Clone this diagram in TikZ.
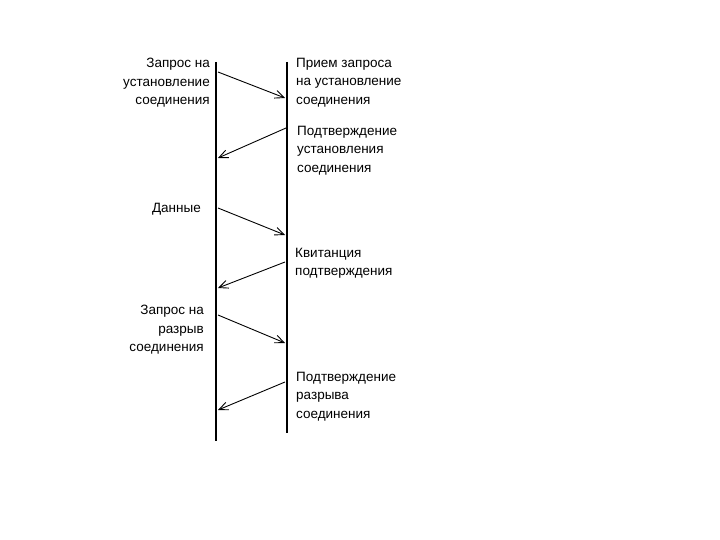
\documentclass[tikz,border=0pt]{standalone}
\usepackage{fontspec}
\setmainfont{Liberation Sans}
\usetikzlibrary{arrows.meta}
\begin{document}
\begin{tikzpicture}[x=1pt,y=-1pt,
  lbl/.style={font=\fontsize{13.5}{18.5}\selectfont,inner sep=0pt},
  ll/.style={lbl,align=right,anchor=north east},
  rl/.style={lbl,align=left,anchor=north west},
  msg/.style={line width=0.9pt,-{Straight Barb[length=9pt,width=8pt]}},
  axis/.style={line width=1.6pt}]
\useasboundingbox (0,0) rectangle (720,540);
\coordinate (lt) at (216,62); \coordinate (lb) at (216,441);
\coordinate (rt) at (287,62); \coordinate (rb) at (287,433);
\draw[axis] (lt) -- (lb);
\draw[axis] (rt) -- (rb);
\coordinate (a1) at (218,72); \coordinate (b1) at (285,98);
\coordinate (a2) at (286,128); \coordinate (b2) at (218,158);
\coordinate (a3) at (218,208); \coordinate (b3) at (285,235);
\coordinate (a4) at (285,262); \coordinate (b4) at (218,288);
\coordinate (a5) at (218,315); \coordinate (b5) at (285,343);
\coordinate (a6) at (285,382); \coordinate (b6) at (218,410);
\foreach \i in {1,...,6}{\draw[msg] (a\i) -- (b\i);}
\node[ll] (t1) at (210,58) {Запрос на\\установление\\соединения};
\node[rl] (t2) at (296,58) {Прием запроса\\на установление\\соединения};
\node[rl] (t3) at (297,126) {Подтверждение\\установления\\соединения};
\node[ll] (t4) at (201,203) {Данные};
\node[rl] (t5) at (295,248) {Квитанция\\подтверждения};
\node[ll] (t6) at (204,305) {Запрос на\\разрыв\\соединения};
\node[rl] (t7) at (296,372) {Подтверждение\\разрыва\\соединения};
\end{tikzpicture}
\end{document}
